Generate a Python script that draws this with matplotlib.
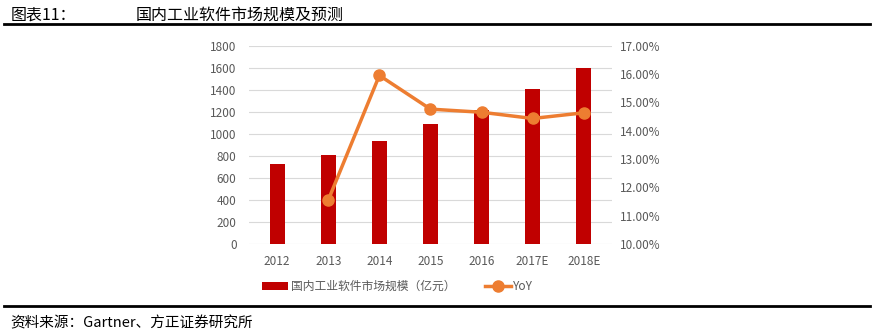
import numpy as np
import matplotlib
matplotlib.use("Agg")
from matplotlib import pyplot as plt
from matplotlib.ticker import FuncFormatter

plt.rcParams['font.family'] = ['Noto Sans CJK SC', 'DejaVu Sans']

years = ['2012', '2013', '2014', '2015', '2016', '2017E', '2018E']
market_size = [722, 804, 934, 1085, 1217, 1405, 1601]  # 亿元
yoy_years = ['2013', '2014', '2015', '2016', '2017E', '2018E']
yoy = [11.55, 15.95, 14.76, 14.65, 14.43, 14.63]  # %

bar_color = '#C00000'
line_color = '#ED7D31'
text_grey = '#595959'

fig = plt.figure(figsize=(8.74, 3.36), dpi=100)
ax = fig.add_axes([0.285, 0.274, 0.415, 0.59])
x = np.arange(len(years))
ax.bar(x, market_size, width=0.3, color=bar_color, zorder=2,
       label='国内工业软件市场规模（亿元）')
ax.set_ylim(0, 1800)
ax.set_yticks(range(0, 1801, 200))
ax.set_xlim(-0.55, len(years) - 0.45)
ax.set_xticks(x)
ax.set_xticklabels(years)
ax.grid(axis='y', color='#D9D9D9', linewidth=0.8, zorder=0)
for s in ax.spines.values():
    s.set_visible(False)
ax.tick_params(length=0, labelsize=8.5, colors=text_grey, pad=8)
ax.tick_params(axis='y', pad=9)

ax2 = ax.twinx()
xi = [years.index(y) for y in yoy_years]
ax2.plot(xi, yoy, color=line_color, linewidth=2.5, marker='o', markersize=8,
         zorder=3, label='YoY')
ax2.set_ylim(10, 17)
ax2.set_yticks(range(10, 18))
ax2.yaxis.set_major_formatter(FuncFormatter(lambda v, p: '%.2f%%' % v))
for s in ax2.spines.values():
    s.set_visible(False)
ax2.tick_params(length=0, labelsize=8.5, colors=text_grey, pad=6)

h1, l1 = ax.get_legend_handles_labels()
h2, l2 = ax2.get_legend_handles_labels()
fig.legend(h1 + h2, l1 + l2, loc='center', bbox_to_anchor=(0.455, 0.148), ncol=2,
           frameon=False, fontsize=8.5, labelcolor=text_grey, handlelength=2.2,
           handletextpad=0.2, columnspacing=2.5)

# header / footer
fig.text(0.012, 0.955, '图表11：', fontsize=11.5, va='center', color='black')
fig.text(0.155, 0.955, '国内工业软件市场规模及预测', fontsize=11.5, va='center', color='black')
fig.add_artist(plt.Line2D([0.005, 0.995], [0.928, 0.928], color='black', linewidth=2))
fig.add_artist(plt.Line2D([0.005, 0.995], [0.088, 0.088], color='black', linewidth=2))
fig.text(0.012, 0.038, '资料来源：Gartner、方正证券研究所', fontsize=10.5, va='center',
         style='italic', color='black')

fig.savefig('out.png', dpi=100)
